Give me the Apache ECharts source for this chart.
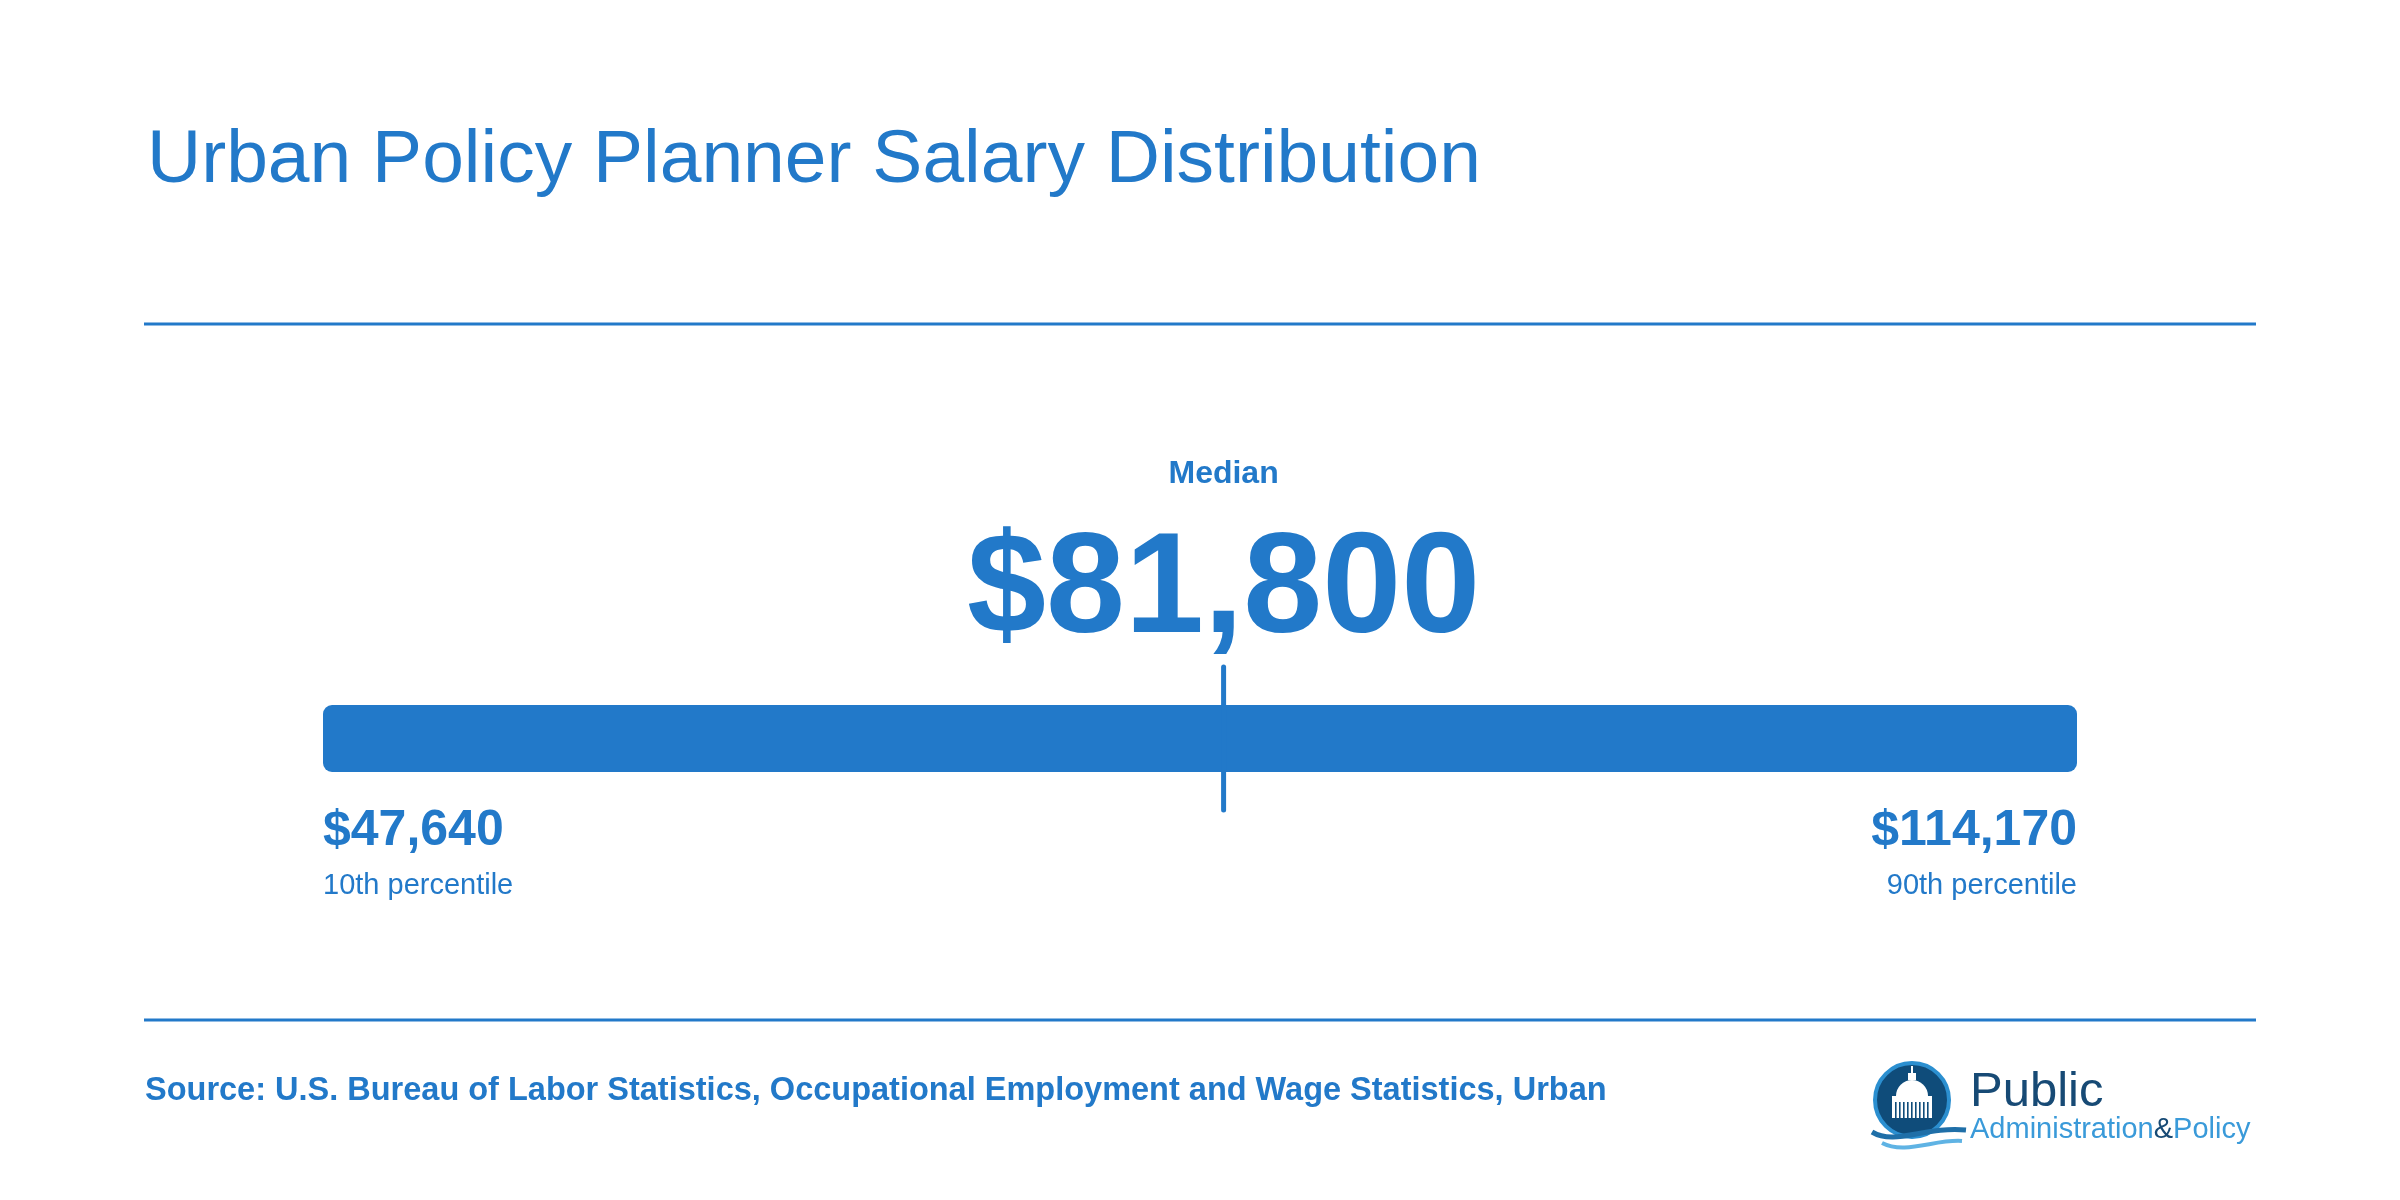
<!DOCTYPE html>
<html>
<head>
<meta charset="utf-8">
<title>Urban Policy Planner Salary Distribution</title>
<script src="https://cdn.jsdelivr.net/npm/echarts@6/dist/echarts.min.js"></script>
<style>
  html, body { margin: 0; padding: 0; background: #fff; }
  #chart { width: 2400px; height: 1200px; }
</style>
</head>
<body>
<div id="chart"></div>
<script>
// chart data
const chartTitle = 'Urban Policy Planner Salary Distribution';
const sourceText = 'Source: U.S. Bureau of Labor Statistics, Occupational Employment and Wage Statistics, Urban';
const percentileNames = ['10th percentile', 'Median', '90th percentile'];
const wageValues = [47640, 81800, 114170];

const BLUE = '#2279C9';
const FONT = '"Liberation Sans", Arial, Helvetica, sans-serif';

function money(v) {
  return '$' + v.toLocaleString('en-US');
}

function renderRange(params, api) {
  const lo = api.value(0), mid = api.value(1), hi = api.value(2);
  const topLeft = api.coord([lo, 1]);
  const botRight = api.coord([hi, 0]);
  const midTop = api.coord([mid, 1]);
  const barTop = topLeft[1], barBottom = botRight[1];
  const mx = midTop[0];

  return {
    type: 'group',
    children: [
      {
        type: 'rect',
        shape: { x: topLeft[0], y: barTop, width: botRight[0] - topLeft[0], height: barBottom - barTop, r: 9 },
        style: { fill: BLUE }
      },
      {
        type: 'line',
        shape: { x1: mx, y1: barTop - 38, x2: mx, y2: barBottom + 38 },
        style: { stroke: BLUE, lineWidth: 5, lineCap: 'round' }
      },
      {
        type: 'text',
        style: { text: percentileNames[1], x: mx, y: barTop - 231, align: 'center', verticalAlign: 'middle',
          font: 'bold 32px ' + FONT, fill: BLUE }
      },
      {
        type: 'text',
        style: { text: money(mid), x: mx, y: barTop - 112, align: 'center', verticalAlign: 'middle',
          font: 'bold 142px ' + FONT, fill: BLUE }
      },
      {
        type: 'text',
        style: { text: money(lo), x: topLeft[0], y: barBottom + 59, align: 'left', verticalAlign: 'middle',
          font: 'bold 50px ' + FONT, fill: BLUE }
      },
      {
        type: 'text',
        style: { text: percentileNames[0], x: topLeft[0], y: barBottom + 114, align: 'left', verticalAlign: 'middle',
          font: '29px ' + FONT, fill: BLUE }
      },
      {
        type: 'text',
        style: { text: money(hi), x: botRight[0], y: barBottom + 59, align: 'right', verticalAlign: 'middle',
          font: 'bold 50px ' + FONT, fill: BLUE }
      },
      {
        type: 'text',
        style: { text: percentileNames[2], x: botRight[0], y: barBottom + 114, align: 'right', verticalAlign: 'middle',
          font: '29px ' + FONT, fill: BLUE }
      }
    ]
  };
}

// small publisher logo in the footer
function logoElements() {
  const cx = 1912, cy = 1100;
  const cols = [];
  for (let i = 0; i < 9; i++) {
    cols.push({
      type: 'rect',
      shape: { x: cx - 17 + i * 4, y: cy + 2, width: 1.6, height: 16 },
      style: { fill: '#0f4c7a' }
    });
  }
  return {
    type: 'group',
    children: [
      { type: 'circle', shape: { cx: cx, cy: cy, r: 37 }, style: { fill: '#0f4c7a', stroke: '#2b8fd0', lineWidth: 4 } },
      { type: 'rect', shape: { x: cx - 1, y: cy - 34, width: 2, height: 8 }, style: { fill: '#fff' } },
      { type: 'rect', shape: { x: cx - 4, y: cy - 27, width: 8, height: 7 }, style: { fill: '#fff' } },
      { type: 'sector', shape: { cx: cx, cy: cy - 4, r0: 0, r: 16, startAngle: Math.PI, endAngle: Math.PI * 2 }, style: { fill: '#fff' } },
      { type: 'rect', shape: { x: cx - 20, y: cy - 4, width: 40, height: 6 }, style: { fill: '#fff' } },
      { type: 'rect', shape: { x: cx - 20, y: cy + 2, width: 40, height: 16 }, style: { fill: '#fff' } }
    ].concat(cols).concat([
      {
        type: 'bezierCurve',
        shape: { x1: 1872, y1: 1132, cpx1: 1895, cpy1: 1146, cpx2: 1925, cpy2: 1126, x2: 1966, y2: 1130 },
        style: { stroke: '#1f6fa8', lineWidth: 5, fill: null }
      },
      {
        type: 'bezierCurve',
        shape: { x1: 1882, y1: 1143, cpx1: 1905, cpy1: 1155, cpx2: 1935, cpy2: 1139, x2: 1962, y2: 1141 },
        style: { stroke: '#5fb3e4', lineWidth: 4, fill: null }
      },
      {
        type: 'text',
        style: { text: 'Public', x: 1970, y: 1117, verticalAlign: 'bottom', font: '49px ' + FONT, fill: '#174a75' }
      },
      {
        type: 'text',
        style: {
          text: '{a|Administration}{b|&}{a|Policy}', x: 1970, y: 1130, verticalAlign: 'middle',
          rich: {
            a: { fontSize: 29, fontFamily: FONT, fill: '#3a9ad9' },
            b: { fontSize: 29, fontFamily: FONT, fill: '#174a75' }
          }
        }
      }
    ])
  };
}

const chart = echarts.init(document.getElementById('chart'));

chart.setOption({
  backgroundColor: '#ffffff',
  animation: false,
  grid: { left: 323, right: 323, top: 705, height: 67 },
  xAxis: { type: 'value', min: wageValues[0], max: wageValues[2], show: false },
  yAxis: { type: 'value', min: 0, max: 1, show: false },
  series: [{
    type: 'custom',
    renderItem: renderRange,
    clip: false,
    data: [wageValues]
  }],
  graphic: [
    {
      type: 'text',
      style: { text: chartTitle, x: 147, y: 161, verticalAlign: 'middle', font: '75px ' + FONT, fill: BLUE }
    },
    { type: 'line', shape: { x1: 144, y1: 324, x2: 2256, y2: 324 }, style: { stroke: BLUE, lineWidth: 3 } },
    { type: 'line', shape: { x1: 144, y1: 1020, x2: 2256, y2: 1020 }, style: { stroke: BLUE, lineWidth: 3 } },
    {
      type: 'text',
      style: { text: sourceText, x: 145, y: 1091, verticalAlign: 'middle', font: 'bold 32.5px ' + FONT, fill: BLUE }
    },
    logoElements()
  ]
});
</script>
</body>
</html>
